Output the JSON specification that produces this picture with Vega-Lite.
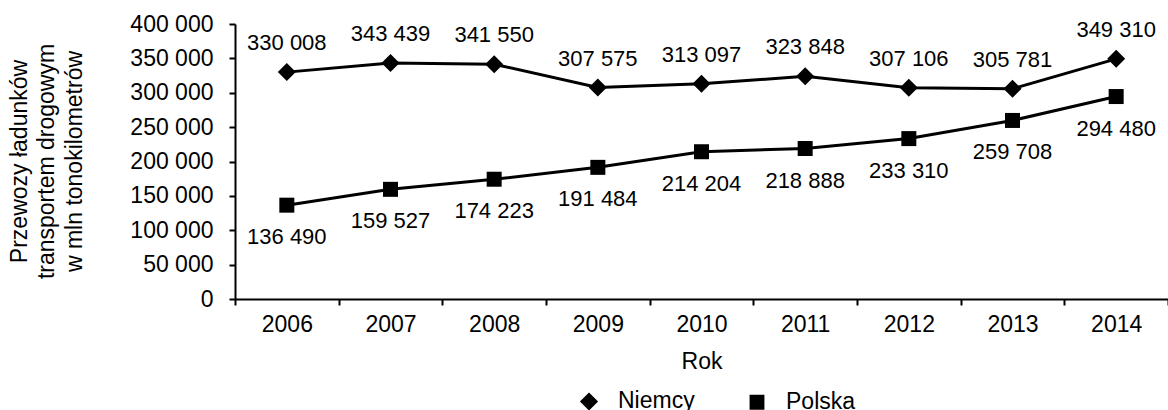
{
  "$schema": "https://vega.github.io/schema/vega-lite/v6.json",
  "width": 933,
  "height": 275,
  "autosize": {"type": "none"},
  "padding": {"left": 235, "top": 24, "right": 0, "bottom": 111},
  "config": {
    "view": {"stroke": null},
    "font": "Liberation Sans",
    "locale": {"number": {"decimal": ",", "thousands": " ", "grouping": [3], "currency": ["", " zł"]}},
    "axis": {
      "domainColor": "black", "domainWidth": 2, "tickColor": "black", "tickWidth": 2, "tickSize": 6,
      "labelColor": "black", "titleColor": "black", "labelFont": "Liberation Sans", "titleFont": "Liberation Sans",
      "labelFontSize": 23, "titleFontSize": 23, "titleFontWeight": "normal", "grid": false
    },
    "legend": {"labelFont": "Liberation Sans", "labelFontSize": 23, "labelColor": "black"}
  },
  "data": {"values": [
    {"year": "2006", "series": "Niemcy", "value": 330008},
    {"year": "2007", "series": "Niemcy", "value": 343439},
    {"year": "2008", "series": "Niemcy", "value": 341550},
    {"year": "2009", "series": "Niemcy", "value": 307575},
    {"year": "2010", "series": "Niemcy", "value": 313097},
    {"year": "2011", "series": "Niemcy", "value": 323848},
    {"year": "2012", "series": "Niemcy", "value": 307106},
    {"year": "2013", "series": "Niemcy", "value": 305781},
    {"year": "2014", "series": "Niemcy", "value": 349310},
    {"year": "2006", "series": "Polska", "value": 136490},
    {"year": "2007", "series": "Polska", "value": 159527},
    {"year": "2008", "series": "Polska", "value": 174223},
    {"year": "2009", "series": "Polska", "value": 191484},
    {"year": "2010", "series": "Polska", "value": 214204},
    {"year": "2011", "series": "Polska", "value": 218888},
    {"year": "2012", "series": "Polska", "value": 233310},
    {"year": "2013", "series": "Polska", "value": 259708},
    {"year": "2014", "series": "Polska", "value": 294480}
  ]},
  "encoding": {
    "x": {
      "field": "year", "type": "ordinal", "bandPosition": 0.5,
      "scale": {"type": "band", "paddingInner": 0, "paddingOuter": 0},
      "axis": {"title": "Rok", "labelAngle": 0, "tickBand": "extent", "labelPadding": 8, "titlePadding": 14}
    },
    "y": {
      "field": "value", "type": "quantitative",
      "scale": {"domain": [0, 400000], "nice": false},
      "axis": {
        "title": ["Przewozy ładunków", "transportem drogowym", "w mln tonokilometrów"],
        "values": [0, 50000, 100000, 150000, 200000, 250000, 300000, 350000, 400000],
        "format": ",d", "labelPadding": 16,
        "titleX": -227, "titleY": 137, "titleBaseline": "top", "titleLineHeight": 27.5, "titleAngle": -90
      }
    }
  },
  "layer": [
    {
      "mark": {"type": "line", "color": "black", "strokeWidth": 3},
      "encoding": {"detail": {"field": "series"}}
    },
    {
      "mark": {"type": "point", "fill": "black", "stroke": "black", "strokeWidth": 3, "opacity": 0, "size": 0},
      "encoding": {
        "shape": {
          "field": "series", "type": "nominal",
          "scale": {"domain": ["Niemcy", "Polska"], "range": ["M-1,0H1M-0.33,0L0,-0.33L0.33,0L0,0.33Z", "M-1,0H1M-0.27,-0.27H0.27V0.27H-0.27Z"]},
          "legend": {
            "title": null, "orient": "none", "legendX": 325, "legendY": 348, "direction": "horizontal",
            "symbolSize": 3025, "symbolStrokeWidth": 3, "symbolOpacity": 1,
            "symbolFillColor": "black", "symbolStrokeColor": "black",
            "labelOffset": 0, "columnPadding": 28
          }
        }
      }
    },
    {
      "transform": [{"filter": "datum.series === 'Niemcy'"}],
      "mark": {"type": "point", "filled": true, "color": "black", "opacity": 1, "size": 324, "shape": "diamond"},
      "encoding": {}
    },
    {
      "transform": [{"filter": "datum.series === 'Polska'"}],
      "mark": {"type": "point", "filled": true, "color": "black", "opacity": 1, "size": 225, "shape": "square"},
      "encoding": {}
    },
    {
      "transform": [{"filter": "datum.series === 'Niemcy'"}],
      "mark": {"type": "text", "fontSize": 22, "dy": -29, "baseline": "middle", "color": "black"},
      "encoding": {"text": {"field": "value", "type": "quantitative", "format": ",d"}}
    },
    {
      "transform": [{"filter": "datum.series === 'Polska'"}],
      "mark": {"type": "text", "fontSize": 22, "dy": 32, "baseline": "middle", "color": "black"},
      "encoding": {"text": {"field": "value", "type": "quantitative", "format": ",d"}}
    }
  ]
}
